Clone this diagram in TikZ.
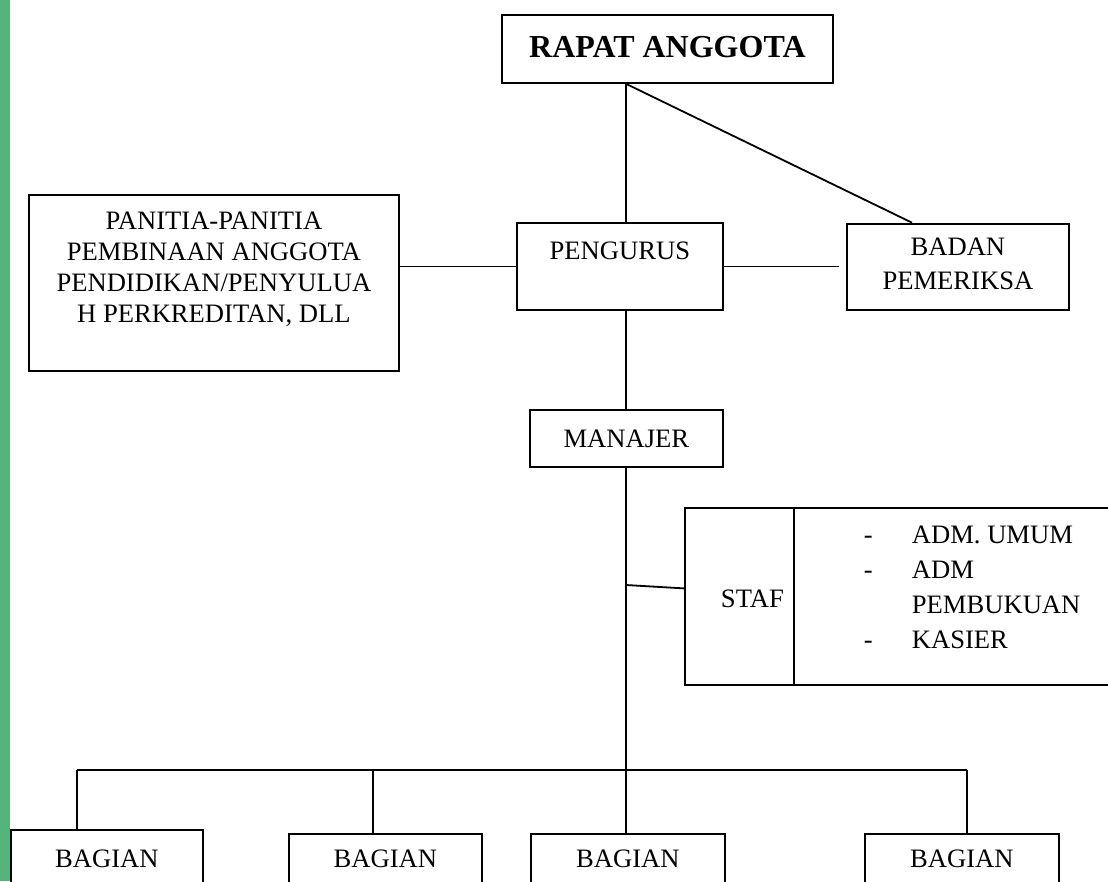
\documentclass[tikz,border=0pt]{standalone}
\usepackage{fontspec}
\setmainfont{Liberation Serif}
\usetikzlibrary{calc}
\definecolor{stripgreen}{RGB}{84,180,124}
\tikzset{
    %Define style for boxes
    kotak/.style={
           draw,
           line width=1.8pt,
           inner sep=0pt,
           anchor=north west,
           font=\fontsize{26.6}{28.6}\selectfont},
    % Define line style
    garis/.style={
           line width=1.8pt}
}
\begin{document}
\begin{tikzpicture}[x=1pt,y=-1pt]
	\useasboundingbox (0,0) rectangle (1108,881);
	\clip (0,0) rectangle (1108,881);
	\fill[stripgreen] (0,0) rectangle (10,881);

	% top
	\node[kotak, minimum width=331pt, text height=42.7pt, text depth=25.3pt, font=\fontsize{32}{32}\selectfont\bfseries](rapat) at (501,14){RAPAT ANGGOTA};

	% pengurus row
	\node[kotak, minimum width=206pt, text height=36.3pt, text depth=50.7pt](pengurus) at (516,222){PENGURUS};
	\node[kotak, minimum width=370pt, align=center, text height=128pt, text depth=48pt, font=\fontsize{26.6}{31}\selectfont](panitia) at (28,194){PANITIA-PANITIA\\PEMBINAAN ANGGOTA\\PENDIDIKAN/PENYULUA\\H PERKREDITAN, DLL};
	\node[kotak, minimum width=222pt, align=center, text height=66.3pt, text depth=20pt, font=\fontsize{26.6}{34}\selectfont](badan) at (846,222.7){BADAN\\PEMERIKSA};

	% manajer and staf
	\node[kotak, minimum width=193pt, minimum height=57pt](manajer) at (529,409){MANAJER};
	\node[kotak, text width=89pt, inner xsep=10pt, align=right, text height=99.7pt, text depth=77.3pt](staf) at (684,507){STAF};
	\node[kotak, inner xsep=70pt, text height=35.3pt, text depth=141.7pt, font=\fontsize{26.6}{35}\selectfont](staf-list) at (793,507){\begin{tabular}[t]{@{}p{48pt}@{}l@{}}
		- & ADM. UMUM\\
		- & ADM\\
		  & PEMBUKUAN\\
		- & KASIER
	\end{tabular}};

	% bagian row
	\node[kotak, minimum width=192pt, text height=38pt, text depth=36pt](bagian-a) at (10,829){BAGIAN};
	\node[kotak, minimum width=193pt, text height=34pt, text depth=36pt](bagian-b) at (288,833){BAGIAN};
	\node[kotak, minimum width=194pt, text height=34pt, text depth=36pt](bagian-c) at (530,833){BAGIAN};
	\node[kotak, minimum width=194pt, text height=34pt, text depth=36pt](bagian-d) at (864,833){BAGIAN};

	% connectors
	\coordinate (sumbu) at (626,0);
	\coordinate (cabang-staf) at (626,585);
	\coordinate (ujung-badan) at ($(badan.west)+(-7,0)$);
	\coordinate (bus-a) at (77,770);
	\coordinate (bus-b) at (373,770);
	\coordinate (bus-c) at (626,770);
	\coordinate (bus-d) at (967,770);

	\draw[garis] (rapat.south -| sumbu) -- (pengurus.north -| sumbu);
	\draw[garis] (rapat.south -| sumbu) -- ($(badan.north west)+(66,0)$);
	\draw[garis] (pengurus.west) -- (pengurus.west -| panitia.east);
	\draw[garis] (pengurus.east) -- (pengurus.east -| ujung-badan);
	\draw[garis] (pengurus.south -| sumbu) -- (manajer.north -| sumbu);
	\draw[garis] (manajer.south -| sumbu) -- (bus-c);
	\draw[garis] (cabang-staf) -- ($(staf.west)+(0,-8)$);

	\draw[garis] (bus-a) -- (bus-d);
	\draw[garis] (bus-a) -- (bus-a |- bagian-a.north);
	\draw[garis] (bus-b) -- (bus-b |- bagian-b.north);
	\draw[garis] (bus-c) -- (bus-c |- bagian-c.north);
	\draw[garis] (bus-d) -- (bus-d |- bagian-d.north);
\end{tikzpicture}
\end{document}
